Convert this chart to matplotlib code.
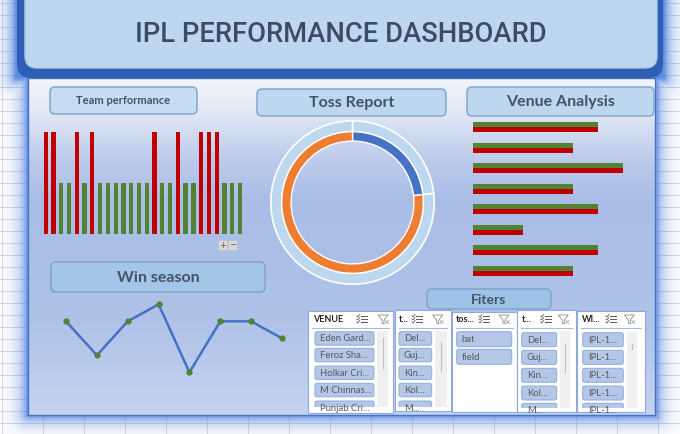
import numpy as np
import matplotlib
matplotlib.use('Agg')
import matplotlib.pyplot as plt
from matplotlib.patches import FancyBboxPatch, Rectangle, Polygon

W, H = 680, 434

# team performance (2 = red, 1 = green)
team_points = [2, 2, 1, 1, 2, 1, 2, 1, 1, 1, 1, 1, 1, 1, 2, 1, 1, 2, 1, 1, 2, 2, 2, 1, 1, 1]

# toss report
toss_labels = ['bat', 'field']
toss_counts = [13, 43]

# venue analysis
venues = ['Eden Gardens', 'Feroz Shah Kotla', 'Holkar Cricket Stadium', 'M Chinnaswamy Stadium',
          'Punjab Cricket Stadium', 'Rajiv Gandhi Stadium', 'Sawai Mansingh Stadium', 'Wankhede Stadium']
venue_won = [5, 4, 6, 4, 5, 2, 5, 4]
venue_lost = [5, 4, 6, 4, 5, 2, 5, 4]

# win season
seasons = ['IPL-1', 'IPL-2', 'IPL-3', 'IPL-4', 'IPL-5', 'IPL-6', 'IPL-7', 'IPL-8']
season_wins = [9, 7, 9, 10, 6, 9, 9, 8]

# slicer items
venue_items = ['Eden Gard...', 'Feroz Sha...', 'Holkar Cri...', 'M Chinnas...', 'Punjab Cri...']
team_items = ['Del...', 'Guj...', 'Kin...', 'Kol...', 'M...']
toss_items = ['bat', 'field']
season_items = ['IPL-1...', 'IPL-1...', 'IPL-1...', 'IPL-1...', 'IPL-1...']

RED = '#c00000'
GREEN = '#548235'
TXT = '#44546a'
FONT = ['Lato', 'DejaVu Sans']


def px_axes(fig, x0, y0, x1, y1):
    return fig.add_axes([x0 / W, 1 - y1 / H, (x1 - x0) / W, (y1 - y0) / H])


def hex2rgb(h):
    return np.array([int(h[i:i + 2], 16) / 255 for i in (1, 3, 5)])


def title_box(ax, x0, y0, x1, y1, text, size, fc='#bdd7ee'):
    ax.add_patch(FancyBboxPatch((x0, y0), x1 - x0, y1 - y0,
                                boxstyle='round,pad=0,rounding_size=5',
                                fc=fc, ec='#7f9fcc', lw=1, zorder=5))
    ax.text((x0 + x1) / 2, (y0 + y1) / 2 + 0.5, text, ha='center', va='center',
            fontsize=size, fontweight='bold', color=TXT, family=FONT, zorder=6)


def draw_background(fig):
    bg = fig.add_axes([0, 0, 1, 1])
    bg.set_xlim(0, W)
    bg.set_ylim(H, 0)
    bg.axis('off')

    # spreadsheet grid
    for y in np.arange(3, H, 12):
        bg.plot([0, W], [y, y], color='#d9d9d9', lw=0.7, zorder=0)
    for x in np.arange(2, W, 41):
        bg.plot([x, x], [0, H], color='#d9d9d9', lw=0.7, zorder=0)

    # soft blue glow round the dashboard
    yy, xx = np.mgrid[0:H, 0:W] + 0.5

    def rect_dist(x0, y0, x1, y1):
        dx = np.maximum(np.maximum(x0 - xx, xx - x1), 0)
        dy = np.maximum(np.maximum(y0 - yy, yy - y1), 0)
        return np.hypot(dx, dy)

    d = np.minimum(rect_dist(16, -40, 664, 78), rect_dist(28, 78, 655, 415))
    glow = np.zeros((H, W, 4))
    glow[..., :3] = (0.30, 0.50, 0.88)
    glow[..., 3] = np.exp(-d / 8.0) * 0.9
    bg.imshow(glow, extent=(0, W, H, 0), origin='upper', zorder=1, aspect='auto',
              interpolation='bilinear')

    # dark frame + banner
    bg.add_patch(FancyBboxPatch((17, -30), 646, 108, boxstyle='round,pad=0,rounding_size=14',
                                fc='#2f5fb5', ec='none', zorder=2))
    bg.add_patch(FancyBboxPatch((25, -20), 632, 88, boxstyle='round,pad=0,rounding_size=12',
                                fc='#bdd7ee', ec='#a9c8ea', lw=1, zorder=3))

    # panel gradient
    stops_y = [78, 110, 160, 200, 320, 415]
    stops_c = [hex2rgb(c) for c in ['#f3f5fb', '#e2e9f6', '#bccbec', '#a9bde6', '#afc2e8', '#c4d3ef']]
    ys = np.arange(78, 416)
    grad = np.stack([np.interp(ys, stops_y, [c[k] for c in stops_c]) for k in range(3)], axis=-1)
    bg.imshow(grad[:, None, :], extent=(28, 655, 415, 78), origin='upper', aspect='auto',
              zorder=3)
    bg.add_patch(Rectangle((28, 78), 627, 337, fill=False, ec='#4472c4', lw=1, zorder=4))
    return bg


def add_title(fig, bg):
    # narrow heading: fit the text to the width it has in the sheet
    t = bg.text(341, 35, 'IPL PERFORMANCE DASHBOARD', ha='center', va='center', fontsize=24,
                color='#3d4c64', family=['Roboto', 'DejaVu Sans'], fontweight='medium', zorder=4)
    fig.canvas.draw()
    w = t.get_window_extent().width
    t.set_fontsize(24 * 412 / w)


def multi_icon(ax, cx, cy):
    for dy in (-3, 0, 3):
        ax.plot([cx - 1, cx + 5], [cy + dy, cy + dy], color='#595959', lw=0.7, zorder=8)
        ax.plot([cx - 5, cx - 4, cx - 2], [cy + dy, cy + dy + 1, cy + dy - 1.5],
                color='#595959', lw=0.6, zorder=8)


def funnel_icon(ax, cx, cy):
    pts = [(cx - 5, cy - 4), (cx + 5, cy - 4), (cx + 1, cy + 1), (cx + 1, cy + 5),
           (cx - 1, cy + 4), (cx - 1, cy + 1)]
    ax.add_patch(Polygon(pts, closed=True, fill=False, ec='#8c8c8c', lw=0.6, zorder=8))
    ax.plot([cx + 2.5, cx + 5.5], [cy + 1.5, cy + 4.5], color='#a6a6a6', lw=0.6, zorder=8)
    ax.plot([cx + 2.5, cx + 5.5], [cy + 4.5, cy + 1.5], color='#a6a6a6', lw=0.6, zorder=8)


def slicer(ax, box, header, hx, ix1, ix2, items, bx0, bx1, tops, bh, clip_y, scroll):
    x0, y0, x1, y1 = box
    ax.add_patch(Rectangle((x0, y0), x1 - x0, y1 - y0, fc='white', ec='#8eaadb', lw=0.8, zorder=6))
    ax.text(hx, 319, header, ha='left', va='center', fontsize=6.5, fontweight='bold',
            color='#262626', family=FONT, zorder=8)
    multi_icon(ax, ix1, 319)
    funnel_icon(ax, ix2, 319)
    ax.plot([x0 + 4, x1 - 4], [327.5, 327.5], color='#a6bbe0', lw=0.8, zorder=7)
    clip = Rectangle((x0, 329), x1 - x0, clip_y - 329, transform=ax.transData)
    for label, top in zip(items, tops):
        b = FancyBboxPatch((bx0, top), bx1 - bx0, bh, boxstyle='round,pad=0,rounding_size=2',
                           fc='#b4c7e7', ec='#8faadc', lw=0.7, zorder=7)
        ax.add_patch(b)
        b.set_clip_path(clip)
        t = ax.text(bx0 + 5, top + bh / 2 + 0.5, label, ha='left', va='center', fontsize=6.8,
                    color='#595959', family=FONT, zorder=8)
        t.set_clip_path(clip)
    if scroll:
        sx0, sx1, ty0, ty1 = scroll
        ax.add_patch(Rectangle((sx0, 331), sx1 - sx0, clip_y - 331, fc='#f0f0f0', ec='none', zorder=7))
        ax.plot([(sx0 + sx1) / 2] * 2, [ty0, ty1], color='#bfbfbf', lw=0.8, zorder=8)


def main():
    fig = plt.figure(figsize=(W / 100, H / 100), dpi=100)
    bg = draw_background(fig)

    title_box(bg, 50, 87, 197, 114, 'Team performance', 8, fc='#c6dcf0')
    title_box(bg, 257, 89, 446, 116, 'Toss Report', 11.5)
    title_box(bg, 467, 87, 654, 116, 'Venue Analysis', 11.5)
    title_box(bg, 51, 262, 265, 292, 'Win season', 11.5, fc='#a2c5e8')
    title_box(bg, 427, 289, 551, 309, 'Fiters', 10, fc='#9dc3e6')

    # +/- buttons under the column chart
    for x, s in ((218, '+'), (228, '\u2212')):
        bg.add_patch(Rectangle((x, 240), 9, 10, fc='#d9d9d9', ec='#bfbfbf', lw=0.5, zorder=5))
        bg.text(x + 4.5, 245, s, ha='center', va='center', fontsize=6, color='#595959', zorder=6)

    # team performance columns
    ax = px_axes(fig, 41.8, 132, 243.9, 234)
    xs = np.arange(len(team_points))
    cols = [RED if v == 2 else GREEN for v in team_points]
    ax.bar(xs, team_points, width=0.55, color=cols)
    ax.set_xlim(-0.5, len(team_points) - 0.5)
    ax.set_ylim(0, 2)
    ax.axis('off')

    # venue analysis bars
    ax = px_axes(fig, 472.7, 116.7, 647.7, 281.3)
    ys = np.arange(len(venues))
    ax.barh(ys - 0.1215, venue_won, height=0.243, color=GREEN)
    ax.barh(ys + 0.1215, venue_lost, height=0.243, color=RED)
    ax.set_xlim(0, 7)
    ax.set_ylim(len(venues) - 0.5, -0.5)
    ax.axis('off')

    # win season line
    ax = px_axes(fig, 50.6, 287.3, 297.4, 389.3)
    ax.plot(np.arange(len(seasons)), season_wins, color='#4472c4', lw=1.8,
            marker='o', ms=3.5, mfc=GREEN, mec=GREEN)
    ax.set_xlim(-0.5, len(seasons) - 0.5)
    ax.set_ylim(5, 11)
    ax.axis('off')

    # toss donut
    ax = px_axes(fig, 270, 120, 435, 285)
    ax.pie(toss_counts, radius=1, startangle=90, counterclock=False,
           colors=['#bdd7ee', '#bdd7ee'],
           wedgeprops=dict(width=0.133, edgecolor='white', linewidth=1.2))
    ax.pie(toss_counts, radius=0.867, startangle=90, counterclock=False,
           colors=['#4472c4', '#ed7d31'],
           wedgeprops=dict(width=0.115, edgecolor='white', linewidth=1.0))
    ax.set_xlim(-1.01, 1.01)
    ax.set_ylim(-1.01, 1.01)
    ax.set_aspect('equal')
    ax.axis('off')

    # slicers
    t1 = [331.7, 348.3, 366, 383.3, 401]
    t2 = [332.7, 350.3, 368.3, 386, 403.3]
    slicer(bg, (308, 311, 393, 413), 'VENUE', 313, 361.7, 383, venue_items, 315, 374, t1, 13.5, 407,
           (377.3, 388.3, 338, 368))
    slicer(bg, (395, 310, 451, 411), 't...', 399.3, 417, 437.7, team_items, 399, 431.7, t1, 13.5, 407,
           (435, 446.7, 341.7, 371))
    slicer(bg, (452, 312, 517, 412), 'tos...', 456, 484, 504, toss_items, 456.7, 511.7,
           [331.7, 349.3], 15, 408, None)
    slicer(bg, (517, 310, 576, 412), 't...', 521.7, 545.7, 563.3, team_items, 521.7, 556.7, t2, 14, 408,
           (560, 570, 344, 372))
    slicer(bg, (577, 311, 645, 412), 'WI...', 581.7, 611, 629.3, season_items, 582.7, 623.3, t2, 14, 408,
           (626.7, 636.7, 344, 349))

    add_title(fig, bg)
    fig.savefig('out.png', dpi=100)


if __name__ == '__main__':
    main()
